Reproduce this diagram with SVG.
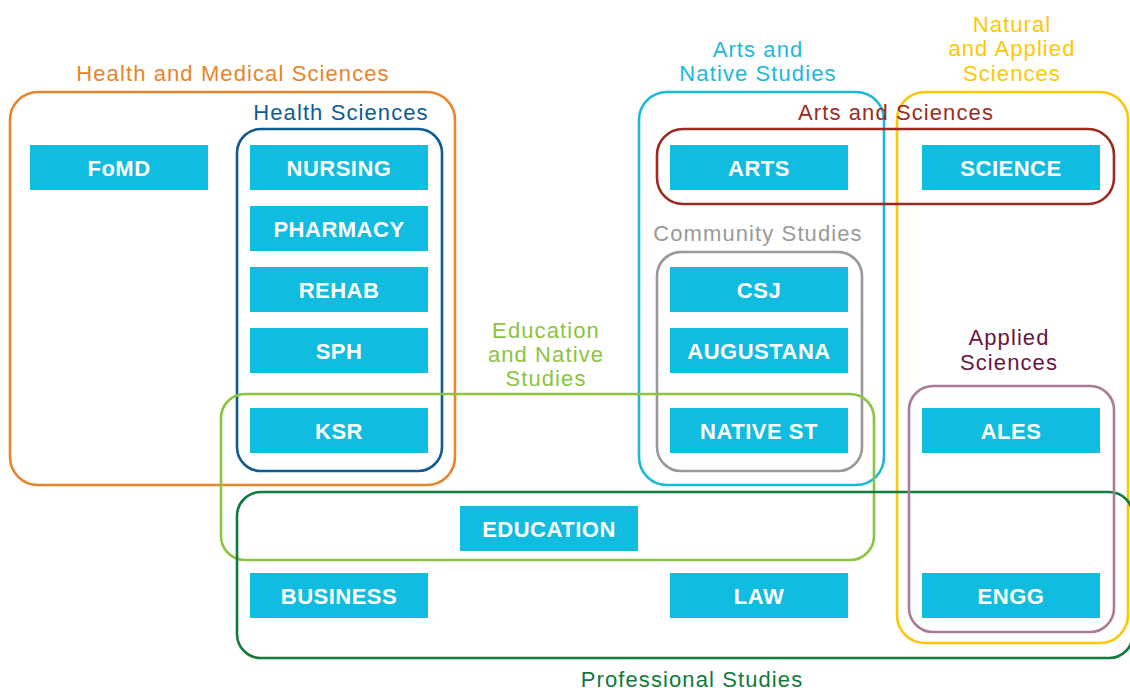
<svg xmlns="http://www.w3.org/2000/svg" width="1130" height="690" viewBox="0 0 1130 690">
<style>
.c{fill:none;stroke-width:2.6}
.lbl{font-family:"Liberation Sans",Arial,sans-serif;font-size:22px;letter-spacing:1.1px;text-anchor:middle}
.n rect{fill:#10bcdf}
.n text{font-family:"Liberation Sans",Arial,sans-serif;font-size:22px;font-weight:bold;letter-spacing:0.5px;fill:#ffffff;text-anchor:middle}
</style>
<rect width="1130" height="690" fill="#ffffff"/>
<g id="containers">
<g id="health-medical"><rect class="c" x="10" y="92" width="445" height="393" rx="28" stroke="#e8842a"/><text class="lbl" x="233" y="81" fill="#e8842a">Health and Medical Sciences</text></g>
<g id="health-sciences"><rect class="c" x="237" y="129" width="205" height="342" rx="24" stroke="#0f5b94"/><text class="lbl" x="341" y="120" fill="#0f5b94">Health Sciences</text></g>
<g id="arts-native"><rect class="c" x="639" y="92" width="245" height="393" rx="28" stroke="#1bb8dc"/><text class="lbl" x="758" y="57" fill="#1bb8dc">Arts and</text><text class="lbl" x="758" y="81" fill="#1bb8dc">Native Studies</text></g>
<g id="natural-applied"><rect class="c" x="897" y="92" width="231" height="551" rx="28" stroke="#fdc705"/><text class="lbl" x="1012" y="32" fill="#fdc705">Natural</text><text class="lbl" x="1012" y="56" fill="#fdc705">and Applied</text><text class="lbl" x="1012" y="81" fill="#fdc705">Sciences</text></g>
<g id="arts-sciences"><rect class="c" x="657" y="129" width="457" height="75" rx="26" stroke="#9a2b22"/><text class="lbl" x="896" y="120" fill="#9a2b22">Arts and Sciences</text></g>
<g id="community-studies"><rect class="c" x="657" y="252" width="205" height="219" rx="24" stroke="#999999"/><text class="lbl" x="758" y="241" fill="#999999">Community Studies</text></g>
<g id="education-native"><rect class="c" x="221" y="394" width="653" height="166" rx="24" stroke="#8cc43f"/><text class="lbl" x="546" y="338" fill="#8cc43f">Education</text><text class="lbl" x="546" y="362" fill="#8cc43f">and Native</text><text class="lbl" x="546" y="386" fill="#8cc43f">Studies</text></g>
<g id="professional-studies"><rect class="c" x="237" y="492" width="896" height="166" rx="24" stroke="#117a3c"/><text class="lbl" x="692" y="687" fill="#117a3c">Professional Studies</text></g>
<g id="applied-sciences"><rect class="c" x="909" y="386" width="205" height="246" rx="24" stroke="#a87c99"/><text class="lbl" x="1009" y="345" fill="#6a1444">Applied</text><text class="lbl" x="1009" y="370" fill="#6a1444">Sciences</text></g>
</g>
<g id="connectors"/>
<g id="nodes">
<g id="fomd" class="n"><rect x="30" y="145" width="178" height="45"/><text x="119" y="175.5">FoMD</text></g>
<g id="nursing" class="n"><rect x="250" y="145" width="178" height="45"/><text x="339" y="175.5">NURSING</text></g>
<g id="pharmacy" class="n"><rect x="250" y="206" width="178" height="45"/><text x="339" y="236.5">PHARMACY</text></g>
<g id="rehab" class="n"><rect x="250" y="267" width="178" height="45"/><text x="339" y="297.5">REHAB</text></g>
<g id="sph" class="n"><rect x="250" y="328" width="178" height="45"/><text x="339" y="358.5">SPH</text></g>
<g id="ksr" class="n"><rect x="250" y="408" width="178" height="45"/><text x="339" y="438.5">KSR</text></g>
<g id="arts" class="n"><rect x="670" y="145" width="178" height="45"/><text x="759" y="175.5">ARTS</text></g>
<g id="science" class="n"><rect x="922" y="145" width="178" height="45"/><text x="1011" y="175.5">SCIENCE</text></g>
<g id="csj" class="n"><rect x="670" y="267" width="178" height="45"/><text x="759" y="297.5">CSJ</text></g>
<g id="augustana" class="n"><rect x="670" y="328" width="178" height="45"/><text x="759" y="358.5">AUGUSTANA</text></g>
<g id="native-st" class="n"><rect x="670" y="408" width="178" height="45"/><text x="759" y="438.5">NATIVE ST</text></g>
<g id="ales" class="n"><rect x="922" y="408" width="178" height="45"/><text x="1011" y="438.5">ALES</text></g>
<g id="education" class="n"><rect x="460" y="506" width="178" height="45"/><text x="549" y="536.5">EDUCATION</text></g>
<g id="business" class="n"><rect x="250" y="573" width="178" height="45"/><text x="339" y="603.5">BUSINESS</text></g>
<g id="law" class="n"><rect x="670" y="573" width="178" height="45"/><text x="759" y="603.5">LAW</text></g>
<g id="engg" class="n"><rect x="922" y="573" width="178" height="45"/><text x="1011" y="603.5">ENGG</text></g>
</g>
</svg>
